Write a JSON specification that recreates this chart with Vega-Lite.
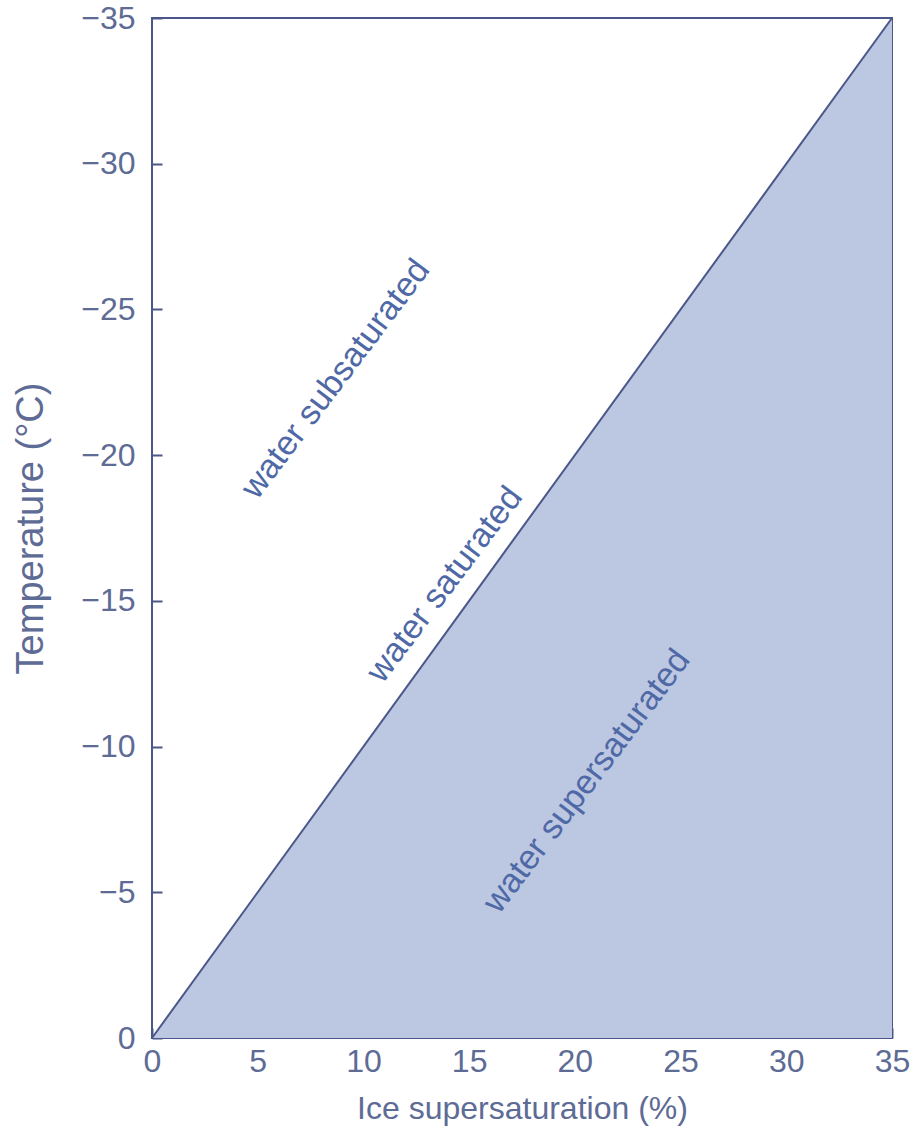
{
  "$schema": "https://vega.github.io/schema/vega-lite/v6.json",
  "width": 740,
  "height": 1020,
  "autosize": "none",
  "padding": {"left": 152, "top": 18, "right": 25, "bottom": 106},
  "background": "white",
  "config": {
    "view": {"stroke": "#4b5788", "strokeWidth": 2},
    "font": "Liberation Sans"
  },
  "datasets": {
    "sat": [{"ice": 0, "temp": 0}, {"ice": 35, "temp": -35}],
    "labels": [
      {"ice": 8.7, "temp": -22.6, "text": "water subsaturated"},
      {"ice": 13.86, "temp": -15.55, "text": "water saturated"},
      {"ice": 20.58, "temp": -8.8, "text": "water supersaturated"}
    ]
  },
  "layer": [
    {
      "data": {"name": "sat"},
      "mark": {"type": "area", "color": "#bcc7e1", "opacity": 1},
      "encoding": {
        "x": {
          "field": "ice", "type": "quantitative",
          "scale": {"domain": [0, 35], "nice": false},
          "axis": {
            "title": "Ice supersaturation (%)",
            "values": [0, 5, 10, 15, 20, 25, 30, 35],
            "grid": false,
            "domain": false,
            "offset": -10,
            "tickColor": "#4b5788", "tickWidth": 2, "tickSize": 10,
            "labelPadding": 8,
            "labelFlush": false,
            "labelFontSize": 32, "labelColor": "#5d6b95",
            "titleFontSize": 32, "titleColor": "#5d6b95", "titleFontWeight": "normal",
            "titlePadding": 16
          }
        },
        "y": {
          "field": "temp", "type": "quantitative",
          "scale": {"domain": [0, -35], "nice": false},
          "axis": {
            "title": "Temperature (°C)",
            "values": [0, -5, -10, -15, -20, -25, -30, -35],
            "grid": false,
            "domain": false,
            "offset": -10,
            "tickColor": "#4b5788", "tickWidth": 2, "tickSize": 10,
            "labelPadding": 17,
            "labelFlush": false,
            "labelFontSize": 32, "labelColor": "#5d6b95",
            "titleFontSize": 38, "titleColor": "#5d6b95", "titleFontWeight": "normal",
            "titlePadding": 30
          }
        },
        "y2": {"datum": 0}
      }
    },
    {
      "data": {"name": "sat"},
      "mark": {"type": "line", "color": "#4b5788", "strokeWidth": 2},
      "encoding": {
        "x": {"field": "ice", "type": "quantitative"},
        "y": {"field": "temp", "type": "quantitative"}
      }
    },
    {
      "data": {"name": "labels"},
      "mark": {"type": "text", "angle": -53, "fontSize": 34, "color": "#4f68a6", "align": "center", "baseline": "middle"},
      "encoding": {
        "x": {"field": "ice", "type": "quantitative"},
        "y": {"field": "temp", "type": "quantitative"},
        "text": {"field": "text"}
      }
    }
  ]
}
